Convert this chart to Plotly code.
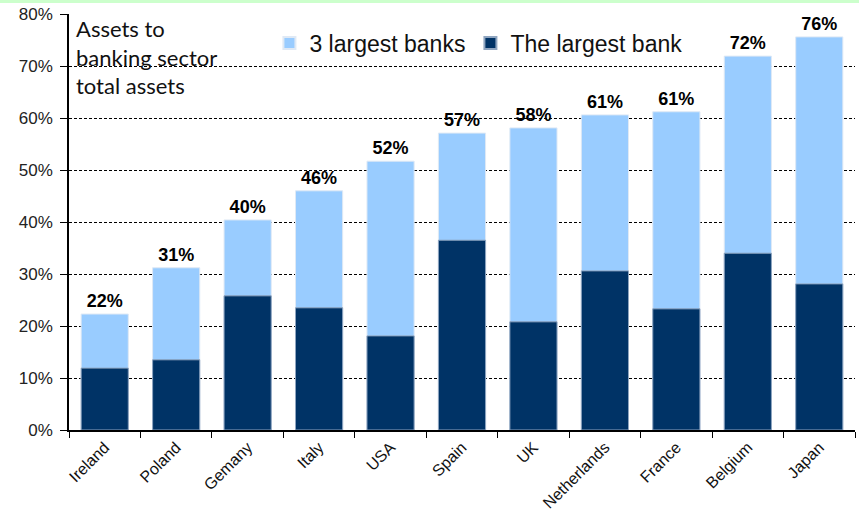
import plotly.graph_objects as go

countries = ["Ireland", "Poland", "Gemany", "Italy", "USA", "Spain", "UK",
             "Netherlands", "France", "Belgium", "Japan"]
top3 = [22.3, 31.2, 40.4, 46.0, 51.7, 57.1, 58.1, 60.6, 61.2, 71.9, 75.6]
largest = [11.9, 13.5, 25.8, 23.5, 18.1, 36.5, 20.8, 30.6, 23.3, 34.0, 28.1]
top3_labels = ["22%", "31%", "40%", "46%", "52%", "57%", "58%", "61%", "61%", "72%", "76%"]
y_ticks = [0, 10, 20, 30, 40, 50, 60, 70, 80]
y_tick_text = ["0%", "10%", "20%", "30%", "40%", "50%", "60%", "70%", "80%"]

fig = go.Figure()
fig.add_trace(go.Bar(
    x=countries, y=top3, name="3 largest banks",
    marker=dict(color="#99ccff", line=dict(color="#dfe9f5", width=1)),
    text=top3_labels, textposition="outside",
    textfont=dict(family="Liberation Sans, Arial", size=18, color="black", weight="bold"),
    cliponaxis=False, width=0.66,
))
fig.add_trace(go.Bar(
    x=countries, y=largest, name="The largest bank",
    marker=dict(color="#003366", line=dict(color="#8fa5c0", width=1)),
    width=0.66,
))

fig.update_layout(
    width=859, height=515,
    barmode="overlay",
    plot_bgcolor="white", paper_bgcolor="white",
    margin=dict(l=69, r=4, t=14, b=85, autoexpand=False),
    font=dict(family="Liberation Sans, Arial", size=17, color="#222"),
    showlegend=True,
    legend=dict(orientation="h", x=0.255, y=0.93, xanchor="left", yanchor="middle",
                font=dict(size=23, color="#111"), bgcolor="rgba(255,255,255,0)",
                itemsizing="constant", traceorder="normal"),
    uniformtext=dict(minsize=8, mode="show"),
)
fig.update_yaxes(
    range=[0, 80], tickvals=y_ticks, ticktext=y_tick_text,
    showgrid=True, gridcolor="black", gridwidth=1, griddash="3px,2px",
    showline=True, linecolor="black", linewidth=1.5,
    ticks="outside", ticklen=7, tickcolor="black", ticklabelstandoff=4,
    zeroline=False, tickfont=dict(size=17, color="#222"), automargin=False,
)
fig.update_xaxes(
    showline=True, linecolor="black", linewidth=1.5,
    ticks="outside", ticklen=6, tickcolor="black", tickson="boundaries",
    tickangle=-45, tickfont=dict(size=16, color="#111"), automargin=False,
    range=[-0.5, 10.5],
)
fig.add_annotation(
    xref="paper", yref="paper", x=0.0, y=1.0, xanchor="left", yanchor="top",
    xshift=5, yshift=1,
    text="Assets to<br>banking sector<br>total assets", showarrow=False, align="left",
    font=dict(family="Lato, Liberation Sans", size=22, color="#111"),
)
fig.add_shape(type="rect", xref="paper", yref="paper",
              x0=-0.1, x1=1.02, y0=1.0 + 11 / 416, y1=1.0 + 14 / 416,
              fillcolor="#ccffcc", line=dict(width=0), layer="above")
fig.write_html("out.html", config={"displayModeBar": False})

with open("out.html", "r", encoding="utf-8") as f:
    html = f.read()
html = html.replace("<body>", "<body style=\"margin:0;padding:0\">", 1)
with open("out.html", "w", encoding="utf-8") as f:
    f.write(html)
